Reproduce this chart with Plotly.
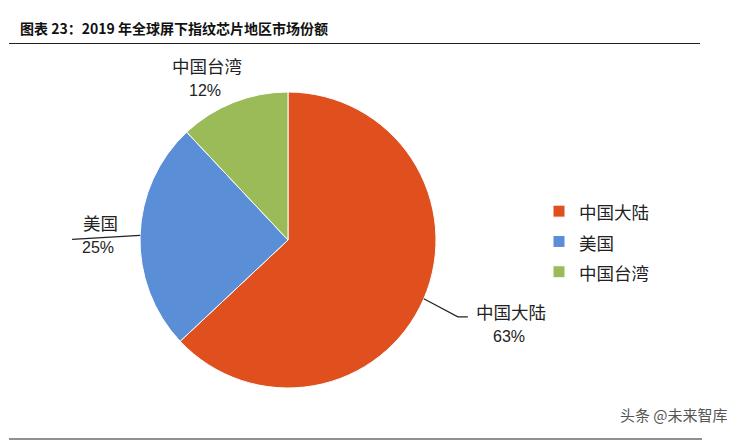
import math
import plotly.graph_objects as go

W, H = 737, 442
labels = ["中国大陆", "美国", "中国台湾"]
values = [63, 25, 12]
colors = ["#E0501F", "#5A8ED6", "#9BBB59"]
title = "图表 23：2019 年全球屏下指纹芯片地区市场份额"
watermark = "头条 @未来智库"

cx, cy, r = 288, 240, 148  # pie centre / radius in px

def px(x):
    return x / W

def py(y):
    return 1 - y / H

legend_names = [f'<span style="font-size:17.5px">{l}</span>' for l in labels]

fig = go.Figure(go.Pie(
    labels=legend_names, values=values, sort=False, direction="clockwise", rotation=0,
    marker=dict(colors=colors, line=dict(color="white", width=1)),
    textinfo="none", hoverinfo="percent",
    domain=dict(x=[px(cx - r), px(cx + r)], y=[py(cy + r), py(cy - r)]),
    showlegend=True,
))

# mid angles of slices (clockwise from 12 o'clock)
total = sum(values)
edges = []
acc = 0
for v in values:
    mid = (acc + v / 2) / total * 2 * math.pi
    edges.append((cx + r * math.sin(mid), cy - r * math.cos(mid)))
    acc += v

cjk = "Noto Sans CJK SC"
num = "Liberation Sans Narrow, Liberation Sans, Arial"
ann = []
shapes = []
# label offsets (px) relative to slice edge point
offs = [(87, 13), (-40, -13), (-27, -37)]
lines = [[(0, 0), (34, 18), (44, 18)], [(0, 0), (-68, 4)], None]
for i, (lab, v) in enumerate(zip(labels, values)):
    ex, ey = edges[i]
    lx, ly = ex + offs[i][0], ey + offs[i][1]
    ann.append(dict(x=px(lx), y=py(ly), xref="paper", yref="paper", text=lab,
                    showarrow=False, font=dict(family=cjk, size=17.5, color="#222"),
                    xanchor="center", yanchor="middle"))
    ann.append(dict(x=px(lx - 2), y=py(ly + 25), xref="paper", yref="paper",
                    text=f"{v}%", showarrow=False,
                    font=dict(family=num, size=16, color="#222"),
                    xanchor="center", yanchor="middle"))
    if lines[i]:
        pts = [(ex + a, ey + b) for a, b in lines[i]]
        path = "M " + " L ".join(f"{px(a)},{py(b)}" for a, b in pts)
        shapes.append(dict(type="path", path=path, xref="paper", yref="paper",
                           line=dict(color="#222", width=1.2)))

# title and rules
ann.append(dict(x=px(18), y=py(28), xref="paper", yref="paper", text=f"<b>{title}</b>",
                showarrow=False, xanchor="left", yanchor="middle",
                font=dict(family=cjk, size=14, color="#111")))
ann.append(dict(x=px(730), y=py(414), xref="paper", yref="paper", text=watermark,
                showarrow=False, xanchor="right", yanchor="middle",
                font=dict(family=cjk, size=15, color="#555")))
shapes.append(dict(type="line", xref="paper", yref="paper", x0=px(9), x1=px(700),
                   y0=py(43.5), y1=py(43.5), line=dict(color="#222", width=1.2)))
shapes.append(dict(type="line", xref="paper", yref="paper", x0=px(9), x1=px(702),
                   y0=py(439), y1=py(439), line=dict(color="#222", width=1.2)))

fig.update_layout(
    width=W, height=H, margin=dict(l=0, r=0, t=0, b=0),
    paper_bgcolor="white", plot_bgcolor="white",
    annotations=ann, shapes=shapes,
    legend=dict(x=px(539), y=py(191), xanchor="left", yanchor="top",
                font=dict(family=cjk, size=21, color="#222"),
                bgcolor="rgba(0,0,0,0)", itemwidth=30, tracegroupgap=0),
)
fig.write_html("out.html", config={"displayModeBar": False},
               post_script="document.body.style.margin='0';document.body.style.padding='0';")
